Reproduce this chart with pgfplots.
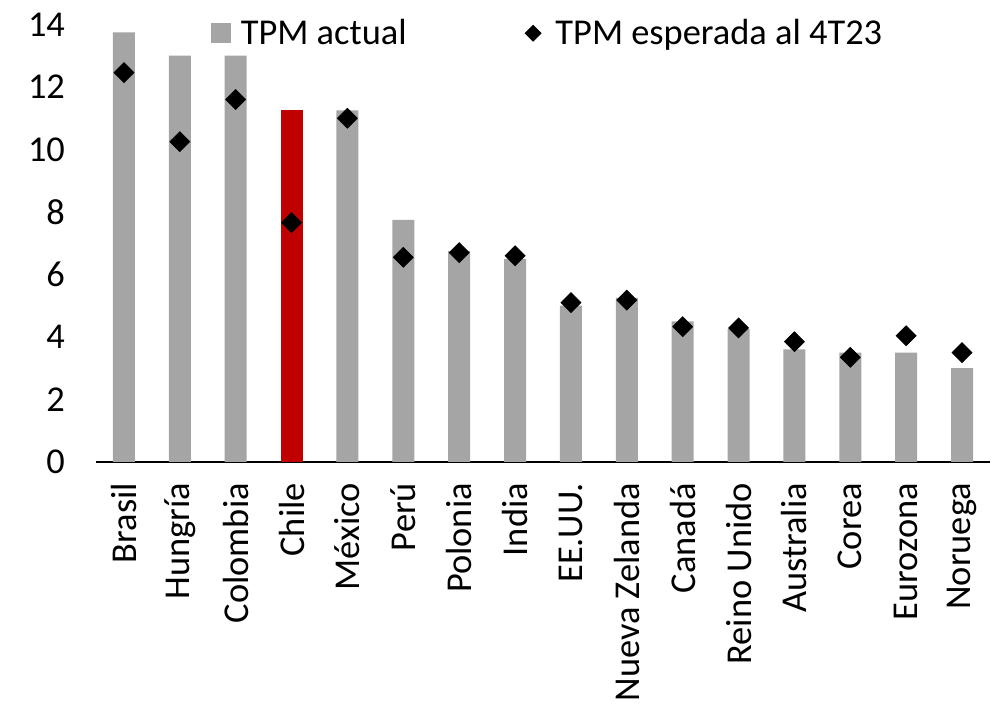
\documentclass[border=0pt]{standalone}
\usepackage{fontspec}
\setmainfont{Carlito}
\usepackage{pgfplots}
\pgfplotsset{compat=1.18}

\definecolor{barGrey}{HTML}{A5A5A5}
\definecolor{barRed}{HTML}{C00000}

\begin{document}
\begin{tikzpicture}
  \useasboundingbox (-48pt,-122pt) rectangle (448pt,231pt);
  \begin{axis}[
      scale only axis,
      width=447pt, height=218.75pt,
      xmin=-0.5, xmax=15.5,
      ymin=0, ymax=14,
      ytick={0,2,...,14},
      xtick={0,...,15},
      xticklabels={Brasil,Hungría,Colombia,Chile,México,Perú,Polonia,India,EE.UU.,Nueva Zelanda,Canadá,Reino Unido,Australia,Corea,Eurozona,Noruega},
      major tick length=0pt,
      axis lines*=left,
      x axis line style={black, line width=0.8pt, -},
      y axis line style={draw=none},
      font=\fontsize{18.2}{21}\selectfont,
      /pgf/number format/assume math mode=true,
      yticklabel style={anchor=east, xshift=-12pt},
      xticklabel style={yshift=-7pt, rotate=90, anchor=east},
      legend columns=2,
      legend style={at={(axis description cs:0.128,0.98)}, anchor=west,
        draw=none, fill=none, inner sep=0pt,
        nodes={inner sep=2pt},
        /tikz/every even column/.append style={column sep=57pt}},
      clip=false,
    ]
    % TPM actual (grey bars)
    \addplot[ybar, bar width=11pt, fill=barGrey, draw=none,
      legend image code/.code={\fill[barGrey] (0pt,-5pt) rectangle (10pt,5pt); \path (13pt,0pt);}]
      coordinates {(0,13.75) (1,13.0) (2,13.0) (4,11.25) (5,7.75) (6,6.75) (7,6.5)
        (8,5.0) (9,5.25) (10,4.5) (11,4.25) (12,3.6) (13,3.5) (14,3.5) (15,3.0)};
    \addlegendentry{TPM actual}
    % Chile highlighted
    \addplot[ybar, bar width=11pt, fill=barRed, draw=none, forget plot]
      coordinates {(3,11.25)};
    % TPM esperada al 4T23 (diamonds)
    \addplot[only marks, mark=square*, mark size=3.5pt, mark options={rotate=45, fill=black, draw=black},
      legend image code/.code={\fill[black, rotate=45] (-2.8pt,-2.8pt) rectangle (2.8pt,2.8pt); \path (-4pt,0pt) (9pt,0pt);}]
      coordinates {(0,12.46) (1,10.25) (2,11.6) (3,7.66) (4,11.0) (5,6.55) (6,6.7) (7,6.6)
        (8,5.1) (9,5.18) (10,4.33) (11,4.29) (12,3.85) (13,3.35) (14,4.04) (15,3.5)};
    \addlegendentry{TPM esperada al 4T23}
  \end{axis}
\end{tikzpicture}
\end{document}
